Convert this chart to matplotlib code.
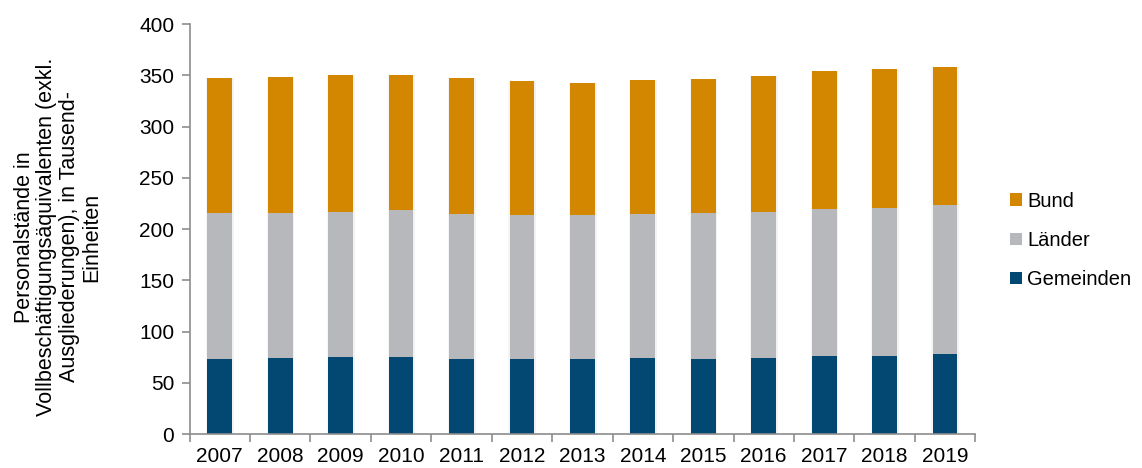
import matplotlib.pyplot as plt
import numpy as np

plt.rcParams['font.family'] = ['Liberation Sans', 'DejaVu Sans']

years = ['2007', '2008', '2009', '2010', '2011', '2012', '2013',
         '2014', '2015', '2016', '2017', '2018', '2019']
gemeinden = [73.6, 73.9, 74.9, 74.9, 72.9, 73.6, 73.6, 74.3, 73.6, 74.3, 75.9, 76.6, 78.2]
laender = [141.7, 142.1, 142.1, 143.4, 142.1, 139.7, 139.7, 140.0, 141.7, 142.7, 143.6, 143.9, 145.1]
bund = [132.2, 132.3, 133.0, 132.2, 132.0, 130.7, 129.2, 131.0, 131.0, 132.5, 134.5, 135.5, 135.0]

c_bund = '#d38700'
c_laender = '#b7b8bb'
c_gem = '#034872'
grey = '#8c8c8c'

fig = plt.figure(figsize=(11.42, 4.68), dpi=100)
ax = fig.add_axes([0.166, 0.0726, 0.688, 0.876])

x = np.arange(len(years))
w = 0.41
gem = np.array(gemeinden)
lae = np.array(laender)
bu = np.array(bund)

# soft shadow behind the bars
for dx, a in [(-0.02, 0.04), (0.03, 0.05)]:
    ax.bar(x + dx, gem + lae + bu, w, bottom=0, color='black', alpha=a, zorder=1)

ax.bar(x, gem, w, color=c_gem, label='Gemeinden', zorder=2)
ax.bar(x, lae, w, bottom=gem, color=c_laender, label='Länder', zorder=2)
ax.bar(x, bu, w, bottom=gem + lae, color=c_bund, label='Bund', zorder=2)

ax.set_xlim(-0.5, len(years) - 0.5)
ax.set_ylim(0, 400)
ax.set_yticks(range(0, 401, 50))
ax.set_xticks(x)
ax.set_xticklabels(years)
ax.set_xticks(np.arange(-0.5, len(years), 1), minor=True)
ax.tick_params(axis='x', which='major', length=0, pad=9, labelsize=15)
ax.tick_params(axis='x', which='minor', length=6, color=grey, width=1.2)
ax.tick_params(axis='y', length=6, color=grey, width=1.2, labelsize=15, pad=5)

for s in ['top', 'right']:
    ax.spines[s].set_visible(False)
for s in ['left', 'bottom']:
    ax.spines[s].set_color(grey)
    ax.spines[s].set_linewidth(1.2)

fig.text(58 / 1142, 1 - 237 / 468,
         'Personalstände in\nVollbeschäftigungsäquivalenten (exkl.\n'
         'Ausgliederungen), in Tausend-\nEinheiten',
         fontsize=15.5, linespacing=1.08, rotation=90, ha='center', va='center',
         multialignment='center')

h, l = ax.get_legend_handles_labels()
order = [2, 1, 0]
ax.legend([h[i] for i in order], [l[i] for i in order], loc='center left',
          bbox_to_anchor=(1.026, 0.472), frameon=False, fontsize=14.5,
          handlelength=0.6, handleheight=0.6, handletextpad=0.25,
          labelspacing=1.0, borderaxespad=0.3)

plt.savefig('out.png', dpi=100)
